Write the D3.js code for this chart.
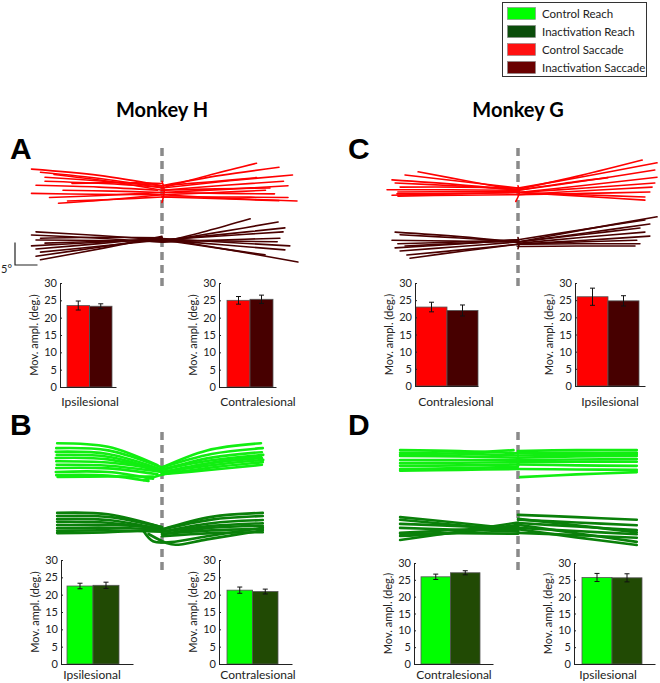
<!DOCTYPE html>
<html><head><meta charset="utf-8">
<script src="https://cdn.jsdelivr.net/npm/d3@7"></script>
<style>
html,body{margin:0;padding:0;background:#fff;}
text{font-family:Lato,"Open Sans",sans-serif;fill:#222;}
</style></head>
<body><div id="chart"></div>
<script>
// ---------------- DATA ----------------
const legendLabels = ["Control Reach","Inactivation Reach","Control Saccade","Inactivation Saccade"];
const monkeyTitles = ["Monkey H","Monkey G"];
const panelLetters = ["A","B","C","D"];
const panelCategories = [["Ipsilesional","Contralesional"],["Ipsilesional","Contralesional"],["Contralesional","Ipsilesional"],["Contralesional","Ipsilesional"]];
const conditions = ["control","inactivation"];
const controlMeans = [[23.5,25.0],[22.5,21.3],[23.0,26.0],[25.9,25.7]];
const controlErr   = [[1.3,1.1],[0.8,0.9],[1.4,2.5],[0.8,1.2]];
const inactMeans   = [[23.3,25.3],[22.7,20.9],[22.0,24.8],[27.1,25.6]];
const inactErr     = [[0.7,1.2],[0.9,0.7],[1.6,1.5],[0.6,1.2]];
const yTicks = [0,5,10,15,20,25,30];
const yLabel = "Mov. ampl. (deg.)";
const scaleBarDeg = 5;

// trajectories (degrees, y up), flat [x0,y0,x1,y1,...]
const trajA_ctrl = [
 [0,0.5,-14,2.8,-29,4.2],[0,0,-13,2.0,-27,3.5],[0,-0.5,-12,1.5,-24,3.0],[0,0.2,-13,1.0,-26,1.5],
 [-1,-0.5,-14,0.2,-28,0.6],[0,-1,-11,-0.7,-22,-0.5],[0,-1.5,-15,-1.4,-29,-1.2],[0,-1,-12,-1.6,-25,-2.1],
 [0,-2,-10,-2.5,-21,-2.9],[0,-1.5,-12,-2.6,-23,-3.4],[0,0.5,-13,1.5,-26,2.4],[0,1,-10,1.2,-20,1.0],
 [0,0,11,3,21,5.5],[0,0.5,13,2.8,26,4.6],[0,0,15,1.6,29,2.9],[0,-0.5,14,0.6,27,1.5],
 [0,-1,14,-0.3,28,0.5],[0,-1.5,12,-1,23,-0.5],[0,-1,13,-1.2,25,-1.3],[0,-2,14,-2,28,-2.1],
 [0,-2,13,-2.4,26,-2.8],[0,-1.5,15,-2.3,30,-2.9],[0,-0.5,12,-0.2,24,0],[0,0.5,11,1.4,21,2.3],
 [0,1.5,0.5,-0.5,0,-3.2]
];
const trajA_inact = [
 [0,0,-14,1.0,-28,1.8],[0,-0.5,-14,0.4,-29,1.1],[0,0.5,-14,0.6,-27,0.4],[0,-0.3,-14,-0.1,-28,0],
 [0,0,-13,-0.3,-26,-0.7],[0,0.3,-14,-0.5,-29,-1.3],[0,0.5,-14,-0.8,-28,-2],[0,0,-13,-1.3,-27,-2.7],
 [0,0.5,-14,-1.6,-28,-3.6],[0,0.8,-13,-1.8,-27,-4.4],
 [0,-0.5,10,2.0,19.6,4.7],[0,-0.3,13,1.8,25.8,4],[0,0,14,1.3,27.3,2.7],[0,0,13,0.9,26.9,1.8],
 [0,-0.5,13,0,26.2,0.4],[0,0,13,-0.2,25.6,-0.4],[0,0.3,14,-0.5,28.4,-1.3],[0,0,14,-1.1,27.3,-2.2],
 [0,0.3,15,-2.2,30.2,-4.9],[0,0,11,-1.6,22.9,-3.3]
];
const trajC_ctrl = [
 [0,-0.5,-15,-0.4,-29.1,-0.4],[0,-0.5,-14,0.8,-28,1.8],[0,-0.3,-14,0.5,-27.3,1.1],[0,0,-13,1.5,-25.1,2.9],
 [0,-0.5,-11,1.5,-22.2,3.6],[0,0,-13,0.2,-26.2,0.2],[0,-0.8,-13,-0.8,-26.7,-0.9],[0,-1,-13,-1.2,-26.9,-1.3],
 [0,-1.5,-13,-1.6,-26.7,-1.8],[0,-1,-14,-1.3,-28,-1.6],
 [0,-0.3,14,2.8,27.6,6.2],[0,0,15,2.6,30.9,5.6],[0,-0.5,15,1.6,30.4,4],[0,-1,15,0.6,30.9,2.4],
 [0,-1,15,0,30.4,1.1],[0,-1.5,15,-0.6,29.8,0.2],[0,-1.5,15,-1.2,29.3,-0.9],[0,-1,14,-1.5,28.2,-2],
 [0,-1,14,-1.8,28.2,-2.7],[0,-0.5,10,1.0,20,2.3],[0,0.5,0.3,-1,-0.5,-3]
];
const trajC_inact = [
 [0,0,-13,1.2,-27.3,2.2],[0,0,-13,0.9,-26.2,1.6],[0,0,-14,0.2,-28,0.4],[0,0.5,-13,0,-26.7,-0.4],
 [0,0.5,-14,-0.5,-27.3,-1.3],[0,0,-13,-1,-26.2,-2],[0,-0.5,-12,-1.7,-24.7,-2.9],[0,-0.5,-12,-2,-24,-3.6],
 [0,0.3,-13,-0.3,-25.1,-0.9],
 [0,0,15,2.8,30.9,5.6],[0,0.5,14,2.7,28.2,4.9],[0,0,15,2,29.3,4],[0,0,14,1.6,27.1,3.1],
 [0,-0.3,14,1,28.2,2.2],[0,-0.5,15,0.4,29.3,1.3],[0,-0.5,13,0,26.4,0.4],[0,-0.5,13,-0.4,27.1,-0.4],
 [0,-1,13,-0.9,26,-0.9],[0,1,0.2,-0.5,0,-1.5]
];
const trajB_ctrl = [
 [-1,-0.5,-12,3.6,-23.3,4.4],[0,-1,-12,2.8,-23.5,3.3],[0,-1.5,-12,2.0,-23.6,2.5],[-1,-1.5,-12,1.4,-23.4,1.8],
 [0,-2,-12,0.8,-23.6,1.1],[0,-1.5,-12,0.1,-23.5,0.4],[0,-2,-12,-0.6,-23.4,-0.4],[-1,-2.5,-12,-1.2,-23.5,-1.1],
 [-2,-3.5,-12,-2,-23.6,-2],[-3,-4,-12,-2.8,-23.5,-2.7],[-2,-3,-12,-3,-23.2,-3.1],
 [0,-1,10,2.8,22,4.4],[0,-1,11,2.0,22.4,3.3],[0,-1.5,11,1.2,22.2,2.4],[0,-1.5,11,0.6,22.5,1.8],
 [0,-2,11,0,22.2,1.1],[0,-2,11,-0.5,22.5,0.7],[0,-2.5,11,-1,22.4,0.2],[0,-2.5,11,-1.5,22.2,-0.4],
 [-4,-3.8,9,-0.3,22,1.5]
];
const trajB_inact = [
 [0,-0.5,-12,2.4,-23.3,2.7],[0,-0.5,-12,1.8,-23.3,2],[0,-1,-12,1.1,-23.3,1.3],[0,-1,-12,0.5,-23.3,0.7],
 [0,-0.5,-12,0,-23.3,0],[0,-1,-12,-0.6,-23.3,-0.7],[0,-1.5,-12,-1.2,-23.3,-1.3],[0,-1,-12,-1.6,-23.3,-1.8],
 [0,-1,11,1.8,22.4,2.7],[0,-1,11,1.2,22.4,2],[0,-1.5,11,0.4,22.4,1.1],[0,-1.5,11,-0.2,22.4,0.4],
 [0,-2,11,-0.6,22.4,-0.2],[0,-2,11,-1.2,22.4,-0.9],[0,-2.5,11,-1.8,22.4,-1.6],
 [-3,-2,1,-4,3,-4.4,10,-3.2,22.4,-1.2],[-4,-1.5,-2,-3.6,2,-3.8,10,-2.5,22.4,-0.6]
];
const trajD_ctrl = [
 [0,1.5,-13,2.0,-26.2,2.2],[0,1,-13,1.4,-26.2,1.6],[0,0.5,-13,0.8,-26.2,0.9],[0,0,-13,0,-26.2,0],
 [0,-0.5,-13,-0.6,-26.2,-0.7],[0,-1,-13,-1.2,-26.2,-1.3],[0,-1.5,-13,-1.8,-26.2,-2],[0,-2,-13,-2.2,-26.2,-2.4],
 [-1,2.2,-14,1.5,-26.2,1.2],
 [0,2,13,2.2,26.4,2.2],[0,1.5,13,1.6,26.4,1.6],[0,0.5,13,0.8,26.4,0.9],[0,0,13,0.1,26.4,0.2],
 [0,-0.5,13,-0.4,26.4,-0.4],[0,-1,13,-1.2,26.4,-1.3],[0,-2,13,-2.1,26.4,-2.2],[0.5,-3.8,13,-3.2,26.4,-2.7],
 [0,1,13,1.2,26.4,1.3]
];
const trajD_inact = [
 [0,-0.5,-13,0.9,-26.2,2.2],[0,-1,-13,0.4,-26.2,1.6],[0,-0.5,-13,0.2,-26.2,0.7],[0,-1,-13,-0.6,-26.2,-0.2],
 [0,0,-13,-0.6,-26.2,-1.3],[0,0.5,-13,-1.2,-26.2,-2],[0,1,-13,-1.0,-26.2,-2.9],[0,-1.5,-13,-1.4,-26.2,-1.5],
 [0,2.7,13,2.2,26.4,1.6],[0,1.6,13,1.0,26.4,0.4],[0,0.9,13,0.1,26.4,-0.7],[0,-0.2,13,-0.9,26.4,-1.6],
 [0,-1.3,13,-1.8,26.4,-2.4],[0,0.5,13,-1.4,26.4,-3.3],[0,-0.5,13,-2.3,26.4,-4],[0,1.8,13,0.4,26.4,-1.2]
];

// ---------------- STYLE / LAYOUT ----------------
const W = 660, H = 683;
const legendColors = ["#00ff00","#0b4d0b","#ff1010","#6a0000"];
const barColors = {sacc:["#ff0000","#470000"], reach:["#00ff00","#214a04"]};
const trajColors = {sacc:["#ff0000","#4a0000"], reach:["#11ee11","#0a800a"]};
const pxPerDeg = 4.5;

const svg = d3.select("#chart").append("svg").attr("width",W).attr("height",H);

// legend
const lg = svg.append("g");
lg.append("rect").attr("x",502.5).attr("y",2.5).attr("width",144).attr("height",74)
  .attr("fill","#fff").attr("stroke","#333").attr("stroke-width",1);
const ly = d3.scaleBand().domain(legendLabels).range([5,77]);
legendLabels.forEach((l,i)=>{
  lg.append("rect").attr("x",507.5).attr("y",ly(l)+2.5).attr("width",28).attr("height",12)
    .attr("fill",legendColors[i]).attr("stroke","#888").attr("stroke-width",0.6);
  lg.append("text").attr("x",542).attr("y",ly(l)+9).attr("dy","0.35em")
    .style("font-size","11.5px").text(l);
});

// titles
[[162,monkeyTitles[0]],[518,monkeyTitles[1]]].forEach(([x,t])=>{
  svg.append("text").attr("x",x).attr("y",117).attr("text-anchor","middle")
    .style("font-size","20px").style("font-weight","bold").style("fill","#000").text(t);
});

// panel layouts
const panels = [
  {letter:0, lx:10, ly:159, cx:162, dashY:[148,286], kind:"sacc", groups:[[188,trajA_ctrl],[240,trajA_inact]],
   charts:[{ax:60,end:116,b0:67,b1:112,top:283,bot:387,lab:90,labY:406},{ax:219,end:276,b0:227,b1:273,top:283,bot:387,lab:258,labY:406}]},
  {letter:1, lx:10, ly:435, cx:162, dashY:[432,570], kind:"reach", groups:[[463,trajB_ctrl],[525,trajB_inact]],
   charts:[{ax:61,end:133,b0:67,b1:119,top:560,bot:664,lab:92,labY:679},{ax:219,end:292,b0:227,b1:278,top:560,bot:664,lab:258,labY:679}]},
  {letter:2, lx:348, ly:159, cx:518, dashY:[148,287], kind:"sacc", groups:[[188,trajC_ctrl],[242,trajC_inact]],
   charts:[{ax:415,end:478,b0:416,b1:478,top:283,bot:386,lab:456,labY:406},{ax:575,end:645,b0:577,b1:639,top:283,bot:386,lab:610,labY:406}]},
  {letter:3, lx:348, ly:435, cx:518, dashY:[432,570], kind:"reach", groups:[[460,trajD_ctrl],[527,trajD_inact]],
   charts:[{ax:414,end:493,b0:421,b1:480,top:563,bot:664,lab:454,labY:679},{ax:574,end:655,b0:582,b1:642,top:563,bot:664,lab:608,labY:679}]}
];

const chunk = a => { const r=[]; for(let i=0;i<a.length;i+=2) r.push([a[i],a[i+1]]); return r; };

panels.forEach((p,pi)=>{
  svg.append("text").attr("x",p.lx).attr("y",p.ly)
    .style("font-family","'Liberation Sans',Arial,sans-serif").style("font-size","30px")
    .style("font-weight","bold").style("fill","#000").text(panelLetters[p.letter]);
  // dashed midline
  svg.append("line").attr("x1",p.cx).attr("x2",p.cx).attr("y1",p.dashY[0]).attr("y2",p.dashY[1])
    .attr("stroke","#8a8a8a").attr("stroke-width",3.5).attr("stroke-dasharray","8,5");
  // trajectories
  p.groups.forEach(([cy,trajs],gi)=>{
    const x = d3.scaleLinear().domain([0,1]).range([p.cx, p.cx+pxPerDeg]);
    const y = d3.scaleLinear().domain([0,1]).range([cy, cy-pxPerDeg]);
    const line = d3.line().x(d=>x(d[0])).y(d=>y(d[1])).curve(d3.curveCatmullRom.alpha(0.5));
    svg.append("g").selectAll("path").data(trajs).join("path")
      .attr("d",d=>line(chunk(d))).attr("fill","none")
      .attr("stroke",trajColors[p.kind][gi])
      .attr("stroke-width",p.kind==="sacc"?1.6:2.6).attr("stroke-linecap","round");
  });
  // bar charts
  p.charts.forEach((c,ci)=>{
    const g = svg.append("g");
    const y = d3.scaleLinear().domain([0,30]).range([c.bot,c.top]);
    const xb = d3.scaleBand().domain(conditions).range([c.b0,c.b1]).padding(0);
    const vals = [controlMeans[pi][ci], inactMeans[pi][ci]];
    const errs = [controlErr[pi][ci], inactErr[pi][ci]];
    g.selectAll("rect.bar").data(conditions).join("rect").attr("class","bar")
      .attr("x",d=>xb(d)).attr("width",xb.bandwidth())
      .attr("y",(d,i)=>y(vals[i])).attr("height",(d,i)=>y(0)-y(vals[i]))
      .attr("fill",(d,i)=>barColors[p.kind][i]).attr("stroke","#555").attr("stroke-width",0.8);
    // error bars
    conditions.forEach((d,i)=>{
      const mx = xb(d)+xb.bandwidth()/2;
      const eg = g.append("g").attr("stroke","#111").attr("stroke-width",1);
      eg.append("line").attr("x1",mx).attr("x2",mx).attr("y1",y(vals[i]-errs[i])).attr("y2",y(vals[i]+errs[i]));
      eg.append("line").attr("x1",mx-2.5).attr("x2",mx+2.5).attr("y1",y(vals[i]-errs[i])).attr("y2",y(vals[i]-errs[i]));
      eg.append("line").attr("x1",mx-2.5).attr("x2",mx+2.5).attr("y1",y(vals[i]+errs[i])).attr("y2",y(vals[i]+errs[i]));
    });
    const ya = g.append("g").attr("transform",`translate(${c.ax},0)`)
      .call(d3.axisLeft(y).tickValues(yTicks).tickSizeInner(-2).tickSizeOuter(0).tickPadding(3));
    ya.selectAll("text").style("font-size","11px").style("fill","#222");
    ya.selectAll("path,line").attr("stroke","#222");
    const xs = d3.scaleLinear().domain([0,1]).range([c.ax,c.end]);
    const xa = g.append("g").attr("transform",`translate(0,${c.bot})`)
      .call(d3.axisBottom(xs).tickValues([]).tickSizeOuter(0));
    xa.selectAll("path").attr("stroke","#222");
    g.append("text").attr("transform",`translate(${c.ax-26},${(c.top+c.bot)/2}) rotate(-90)`)
      .attr("text-anchor","middle").attr("dy","0.35em").style("font-size","11px").text(yLabel);
    g.append("text").attr("x",c.lab).attr("y",c.labY).attr("text-anchor","middle")
      .style("font-size","12px").text(panelCategories[pi][ci]);
  });
});

// scale bar (5 degrees) in panel A
const sb = d3.scaleLinear().domain([0,scaleBarDeg]).range([0,scaleBarDeg*pxPerDeg]);
svg.append("path").attr("d",`M15,${265-sb(scaleBarDeg)}V265H${15+sb(scaleBarDeg)}`)
  .attr("fill","none").attr("stroke","#222").attr("stroke-width",1.2);
svg.append("text").attr("x",1).attr("y",273).style("font-size","11px").text(scaleBarDeg+"°");
</script></body></html>
